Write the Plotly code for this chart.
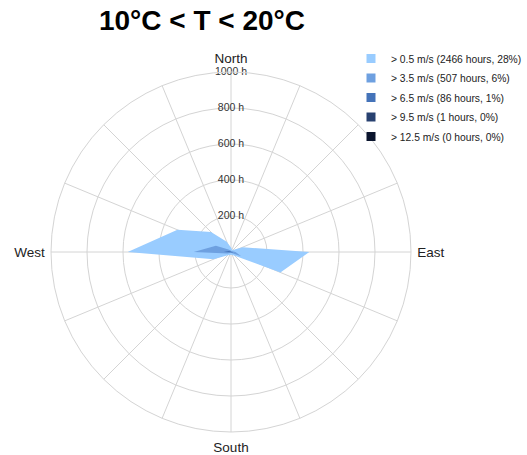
import plotly.graph_objects as go

directions = ["N", "NNE", "NE", "ENE", "E", "ESE", "SE", "SSE",
              "S", "SSW", "SW", "WSW", "W", "WNW", "NW", "NNW"]
angles = [i * 22.5 for i in range(16)]

speed_05 = [25, 15, 15, 70, 435, 297, 30, 18, 15, 18, 25, 105, 574, 322, 157, 62]
speed_35 = [6, 5, 5, 10, 25, 61, 10, 5, 5, 5, 8, 20, 207, 91, 20, 10]
speed_65 = [2, 1, 1, 3, 6, 12, 3, 1, 1, 1, 2, 5, 40, 15, 5, 3]
speed_95 = [0, 0, 0, 0, 0, 0, 0, 0, 0, 0, 0, 0, 1, 0, 0, 0]
speed_125 = [0] * 16

series_names = ["> 0.5 m/s (2466 hours, 28%)", "> 3.5 m/s (507 hours, 6%)",
                "> 6.5 m/s (86 hours, 1%)", "> 9.5 m/s (1 hours, 0%)",
                "> 12.5 m/s (0 hours, 0%)"]
series_values = [speed_05, speed_35, speed_65, speed_95, speed_125]
colors = ["#99ccff", "#6ea0e0", "#4473b9", "#284170", "#0a142d"]

radial_ticks = [200, 400, 600, 800, 1000]
radial_labels = ["200 h", "400 h", "600 h", "800 h", "1000 h"]
cardinal_text = {0: "North", 90: "East", 180: "South", 270: "West"}

fig = go.Figure()

for name, vals, col in zip(series_names, series_values, colors):
    fig.add_trace(go.Scatterpolar(
        r=vals + [vals[0]], theta=angles + [angles[0]],
        mode="lines", fill="toself", fillcolor=col,
        line=dict(width=0, color=col), showlegend=False, hoverinfo="skip"))

for i, (name, col) in enumerate(zip(series_names, colors)):
    fig.add_trace(go.Scatterpolar(
        r=[None], theta=[None], mode="markers", name=name,
        marker=dict(symbol="square", size=9, color=col),
        legendgroup=f"g{i}"))

fig.add_trace(go.Scatterpolar(
    r=radial_ticks, theta=[0] * len(radial_ticks), mode="text",
    text=radial_labels, textposition="middle center",
    textfont=dict(family="Liberation Sans, Arial", size=10.5, color="#333333"),
    showlegend=False, hoverinfo="skip", cliponaxis=False))

fig.update_layout(
    width=527, height=455,
    margin=dict(l=0, r=0, t=0, b=0, autoexpand=False),
    paper_bgcolor="white",
    font=dict(family="Liberation Sans, Arial", color="#222222"),
    title=dict(text="<b>10°C < T < 20°C</b>", x=202 / 527, xanchor="center",
               y=1 - 20.5 / 455, yanchor="middle", yref="container",
               font=dict(size=28, color="black", family="Liberation Sans, Arial")),
    polar=dict(
        domain=dict(x=[51 / 527, 411 / 527], y=[23 / 455, 383 / 455]),
        bgcolor="white",
        angularaxis=dict(
            rotation=90, direction="clockwise",
            tickmode="array", tickvals=angles,
            ticktext=[cardinal_text.get(a, "") for a in angles],
            ticks="outside", ticklen=3, tickcolor="rgba(0,0,0,0)",
            showline=True, linecolor="#d4d4d4", linewidth=1,
            gridcolor="#d4d4d4", tickfont=dict(size=13.5, color="#222222")),
        radialaxis=dict(
            range=[0, 1000], tickmode="array", tickvals=radial_ticks,
            showticklabels=False, ticks="", showline=False,
            gridcolor="#d4d4d4"),
    ),
    legend=dict(x=351 / 527, xanchor="left", y=1 - 44 / 455, yanchor="top",
                font=dict(size=10.3, color="#222222"), tracegroupgap=0.5,
                bgcolor="rgba(0,0,0,0)"),
)

fig.write_html("out.html", config={"displayModeBar": False},
               post_script="document.body.style.margin='0';document.body.style.overflow='hidden';")
